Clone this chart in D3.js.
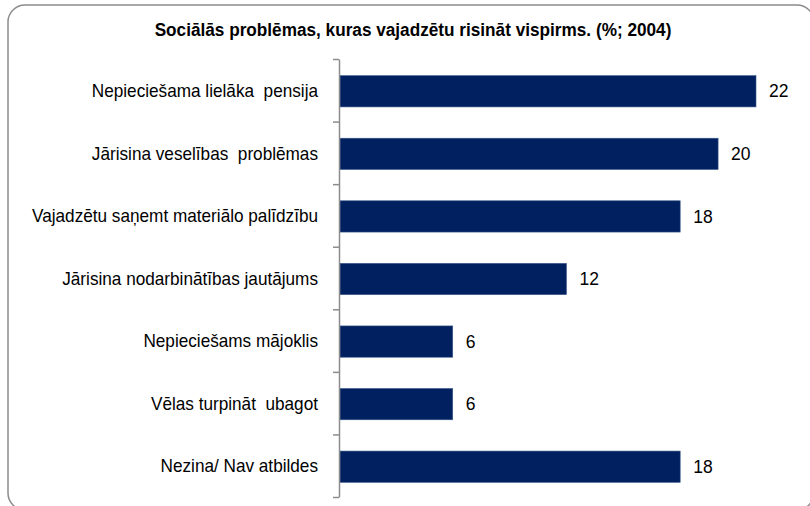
<!DOCTYPE html>
<html>
<head>
<meta charset="utf-8">
<script src="https://d3js.org/d3.v7.min.js"></script>
<style>
  body { margin: 0; background: #fff; }
  .title { font-family: "Liberation Sans", Arial; font-size: 19px; font-weight: bold; }
  .cat text, .val { font-family: "Liberation Sans", Arial; font-size: 18px; fill: #000; }
  .val { font-size: 17.5px; }
  .grid .domain, .grid line { stroke: #8c8c8c; stroke-width: 1.5; }
</style>
</head>
<body>
<svg id="chart" width="810" height="506"></svg>
<script>
  const categories = ["Nepieciešama lielāka  pensija", "Jārisina veselības  problēmas",
    "Vajadzētu saņemt materiālo palīdzību", "Jārisina nodarbinātības jautājums",
    "Nepieciešams mājoklis", "Vēlas turpināt  ubagot", "Nezina/ Nav atbildes"];
  const values = [22, 20, 18, 12, 6, 6, 18];
  const titleText = "Sociālās problēmas, kuras vajadzētu risināt vispirms. (%; 2004)";

  const svg = d3.select("#chart");
  const margin = {top: 59, left: 339, bottom: 9};
  const height = +svg.attr("height");

  // frame (runs off the right and bottom edge like the original)
  svg.append("rect").attr("x", 8).attr("y", 5).attr("width", 806).attr("height", 505)
     .attr("rx", 17).attr("fill", "none").attr("stroke", "#8c8c8c").attr("stroke-width", 1.5);

  svg.append("text").attr("class", "title")
     .attr("transform", "translate(413,36) scale(0.905,1)")
     .attr("text-anchor", "middle").text(titleText);

  const x = d3.scaleLinear().domain([0, 22]).range([margin.left, 756]);
  const y = d3.scaleBand().domain(categories).range([margin.top, height - margin.bottom])
              .paddingInner(0.5).paddingOuter(0.25);
  const tickPos = d3.scaleLinear().domain([0, categories.length]).range([margin.top, height - margin.bottom]);

  svg.selectAll("rect.bar").data(categories).join("rect")
     .attr("class", "bar")
     .attr("x", x(0) + 1)
     .attr("y", d => y(d) + 1)
     .attr("width", (d, i) => x(values[i]) - x(0) - 1)
     .attr("height", y.bandwidth())
     .attr("fill", "#00205f")
     .attr("stroke", "#3a5a8c").attr("stroke-width", 0.6);

  svg.selectAll("text.val").data(categories).join("text")
     .attr("class", "val")
     .attr("x", (d, i) => x(values[i]) + 13)
     .attr("y", d => y(d) + y.bandwidth() / 2 + 1)
     .attr("dy", "0.35em")
     .text((d, i) => values[i]);

  // axis line with ticks between categories
  svg.append("g").attr("class", "grid")
     .attr("transform", "translate(" + margin.left + ",0)")
     .call(d3.axisLeft(tickPos).tickValues(d3.range(categories.length + 1)).tickFormat("").tickSizeInner(6).tickSizeOuter(0));

  svg.append("g").attr("class", "cat")
     .attr("transform", "translate(" + (margin.left - 21) + ",1) scale(0.955,1)")
     .call(d3.axisLeft(y).tickSize(0).tickPadding(0))
     .call(g => g.select(".domain").remove())
     .selectAll("text").style("white-space", "pre").attr("xml:space", "preserve");
</script>
</body>
</html>
